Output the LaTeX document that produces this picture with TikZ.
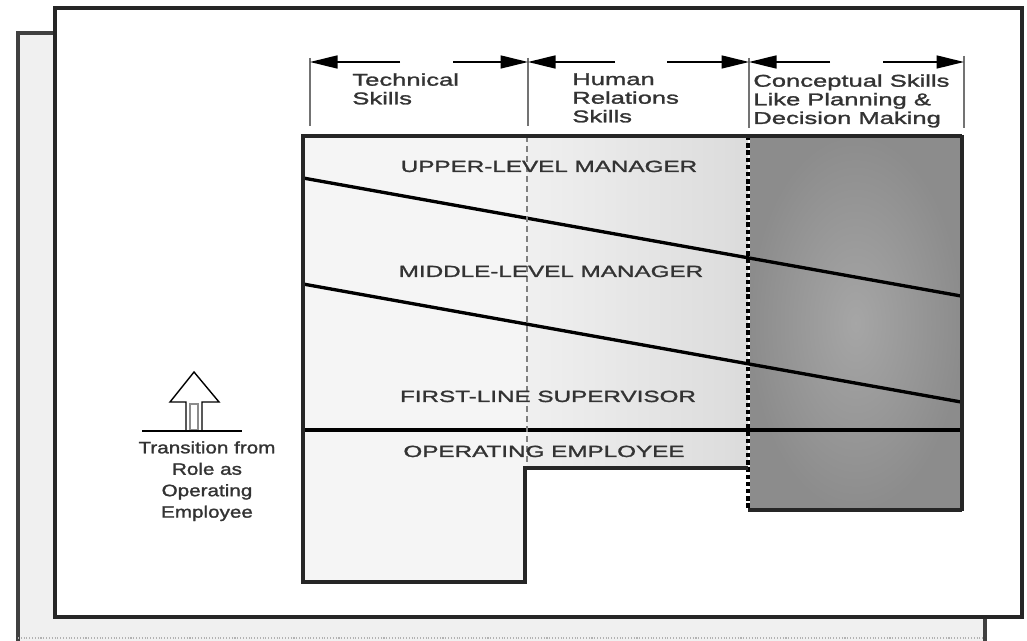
\documentclass[tikz,border=0pt]{standalone}
\usepackage{fontspec}
\setmainfont{Liberation Sans}
\newfontfamily\chartfont[FakeStretch=1.5,FakeBold=1.5]{Liberation Sans}
\newfontfamily\sidefont[FakeStretch=1.25,FakeBold=1.5]{Liberation Sans}
\usetikzlibrary{arrows.meta}
\definecolor{ink}{gray}{0.2}
\begin{document}
\begin{tikzpicture}[x=0.02cm,y=-0.02cm,
    every node/.style={inner sep=0pt,text=ink},
    head/.style={font=\chartfont\fontsize{9.7}{10.6}\selectfont,align=left,anchor=north west},
    level/.style={font=\chartfont\fontsize{9.2}{11}\selectfont,anchor=base},
    side/.style={font=\sidefont\fontsize{9.4}{12.2}\selectfont,align=center,anchor=north},
    span/.style={line width=0.9pt,-{Triangle[length=0.55cm,width=0.26cm]}},
    tick/.style={line width=1.3pt,draw=black!55},
    divide/.style={line width=1.9pt}]
  \useasboundingbox (0,0) rectangle (1027,641);

  \fill[black!6] (18,33) rectangle (985,641);
  \draw[line width=2.6pt,draw=black!75] (18,641) -- (18,33) -- (985,33) -- (985,641);
  \draw[black!30,densely dotted,line width=0.6pt] (18,638) -- (985,638);
  \draw[line width=2.2pt,draw=black!85,fill=white] (55,8) rectangle (1022,617);

  \fill[black!4] (303,136) rectangle (527,582);
  \shade[left color=black!6,right color=black!14] (527,136) rectangle (748,468);
  \shade[inner color=black!35,outer color=black!45] (750,136) rectangle (961,510);

  \coordinate (u0) at (303,178);
  \coordinate (u1) at (961,296);
  \coordinate (m0) at (303,284);
  \coordinate (m1) at (961,402);
  \coordinate (f0) at (303,430);
  \coordinate (f1) at (961,430);

  \draw[divide] (u0) -- (u1);
  \draw[divide] (m0) -- (m1);
  \draw[divide] (f0) -- (f1);

  \draw[line width=0.9pt,draw=black!50,dash pattern=on 3.4pt off 2.3pt] (527,136) -- (527,468);
  \draw[line width=2pt,dash pattern=on 2.5pt off 1.6pt] (748,136) -- (748,510);

  \draw[line width=1.8pt,draw=black!85] (748,510) -- (962,510);
  \draw[line width=1.8pt,draw=black!85] (748,468) -- (525,468) -- (525,582) -- (303,582) -- (303,136) -- (962,136);
  \draw[line width=2.8pt,draw=black!85] (962,135) -- (962,511);

  \node[level] (upper) at (549,172) {UPPER-LEVEL MANAGER};
  \node[level] (middle) at (551,277) {MIDDLE-LEVEL MANAGER};
  \node[level] (first) at (548,402) {FIRST-LINE SUPERVISOR};
  \node[level] (operating) at (544,457) {OPERATING EMPLOYEE};

  \coordinate (k0) at (310,58);
  \coordinate (k0b) at (310,126);
  \coordinate (k1) at (528,58);
  \coordinate (k1b) at (528,126);
  \coordinate (k2) at (749,58);
  \coordinate (k2b) at (749,128);
  \coordinate (k3) at (964,56);
  \coordinate (k3b) at (964,128);

  \draw[tick] (k0) -- (k0b);
  \draw[tick] (k1) -- (k1b);
  \draw[tick] (k2) -- (k2b);
  \draw[tick] (k3) -- (k3b);

  \coordinate (a0) at (400,62);
  \coordinate (a1) at (453,62);
  \coordinate (a2) at (615,62);
  \coordinate (a3) at (667,62);
  \coordinate (a4) at (830,62);
  \coordinate (a5) at (883,62);

  \draw[span] (a0) -- (k0 |- a0);
  \draw[span] (a1) -- (k1 |- a1);
  \draw[span] (a2) -- (k1 |- a2);
  \draw[span] (a3) -- (k2 |- a3);
  \draw[span] (a4) -- (k2 |- a4);
  \draw[span] (a5) -- (k3 |- a5);

  \node[head] (tech) at (352,73) {Technical\\Skills};
  \node[head] (human) at (572,73) {Human\\Relations\\Skills};
  \node[head] (concept) at (753,74) {Conceptual Skills\\Like Planning \&\\Decision Making};

  \draw[line width=0.8pt,fill=white] (186,430) -- (186,402) -- (170,402) -- (194,372) -- (219,402) -- (202,402) -- (202,430);
  \draw[black!45,line width=0.6pt] (190,404) rectangle (198,430);
  \coordinate (b0) at (142,431);
  \coordinate (b1) at (242,431);
  \draw[line width=1pt] (b0) -- (b1);
  \node[side] (transition) at (207,441) {Transition from\\Role as\\Operating\\Employee};
\end{tikzpicture}
\end{document}
